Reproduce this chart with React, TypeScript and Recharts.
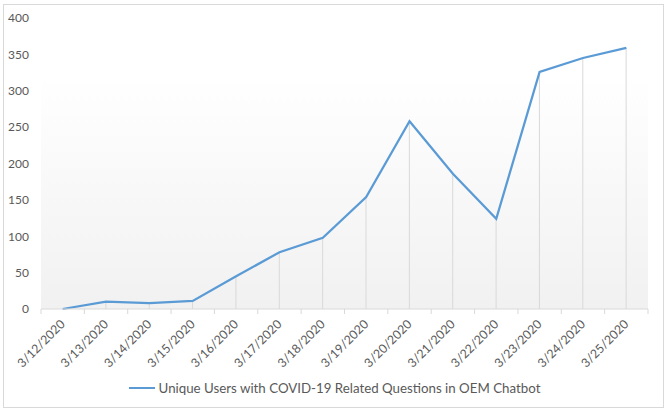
import React from "react";
import { ComposedChart, Line, Bar, XAxis, YAxis, CartesianGrid, Legend } from "recharts";

const dates = [
  "3/12/2020", "3/13/2020", "3/14/2020", "3/15/2020", "3/16/2020", "3/17/2020", "3/18/2020",
  "3/19/2020", "3/20/2020", "3/21/2020", "3/22/2020", "3/23/2020", "3/24/2020", "3/25/2020",
];
const uniqueUsers = [0, 10, 8, 11, 45, 78, 98, 154, 258, 186, 124, 326, 345, 359];
const yTicks = [0, 50, 100, 150, 200, 250, 300, 350, 400];
const seriesName = "Unique Users with COVID-19 Related Questions in OEM Chatbot";

const data = dates.map((date, i) => ({ date, users: uniqueUsers[i] }));

const W = 669;
const H = 415;
const M = { top: 18, right: 21, bottom: 17, left: 0 };
const Y_W = 41;
const HALF_BAND = (W - M.right - Y_W) / dates.length / 2;
const TEXT = "#595959";
const GRID = "#d9d9d9";
const FONT = "Lato, 'Open Sans', sans-serif";

function DateTick(props: any) {
  const { x, y, payload, index } = props;
  return (
    <g>
      <line x1={x - HALF_BAND} x2={x - HALF_BAND} y1={y} y2={y + 5} stroke={GRID} />
      {index === dates.length - 1 && (
        <line x1={x + HALF_BAND} x2={x + HALF_BAND} y1={y} y2={y + 5} stroke={GRID} />
      )}
      <text
        transform={`translate(${x + 3},${y + 16}) rotate(-45)`}
        textAnchor="end"
        fontSize={12.3}
        fill={TEXT}
        fontFamily={FONT}
      >
        {payload.value}
      </text>
    </g>
  );
}

function LegendBox() {
  return (
    <div
      style={{
        display: "flex",
        justifyContent: "center",
        alignItems: "center",
        height: 20,
        fontFamily: FONT,
        fontSize: 13.3,
        color: TEXT,
      }}
    >
      <span style={{ display: "inline-block", width: 26, height: 2, background: "#5b9bd5", marginRight: 4 }} />
      {seriesName}
    </div>
  );
}

export default function App() {
  return (
    <div style={{ position: "absolute", left: 0, top: 0, width: W, height: H, background: "#fff" }}>
      <div
        style={{
          position: "absolute",
          left: 3,
          top: 4,
          width: 659,
          height: 402,
          border: `1px solid ${GRID}`,
        }}
      />
      <ComposedChart width={W} height={H} data={data} margin={M}>
        <defs>
          <linearGradient id="plotFill" x1="0" y1="0" x2="0" y2="1">
            <stop offset="0%" stopColor="#ffffff" />
            <stop offset="20%" stopColor="#ffffff" />
            <stop offset="100%" stopColor="#f1f1f1" />
          </linearGradient>
        </defs>
        <CartesianGrid horizontal={false} vertical={false} fill="url(#plotFill)" />
        <XAxis
          dataKey="date"
          interval={0}
          height={69}
          tickSize={0}
          tickMargin={0}
          tick={<DateTick />}
          axisLine={{ stroke: GRID }}
          tickLine={false}
        />
        <YAxis
          width={Y_W}
          domain={[0, 400]}
          ticks={yTicks}
          axisLine={false}
          tickLine={false}
          tickSize={0}
          tickMargin={12}
          tick={{ fontSize: 12, fill: TEXT, fontFamily: FONT }}
        />
        <Bar dataKey="users" barSize={1} fill={GRID} isAnimationActive={false} legendType="none" />
        <Line
          type="linear"
          dataKey="users"
          name={seriesName}
          stroke="#5b9bd5"
          strokeWidth={2.25}
          dot={false}
          activeDot={false}
          isAnimationActive={false}
        />
        <Legend
          verticalAlign="bottom"
          height={20}
          width={W}
          wrapperStyle={{ left: 0, width: W }}
          content={<LegendBox />}
        />
      </ComposedChart>
    </div>
  );
}
